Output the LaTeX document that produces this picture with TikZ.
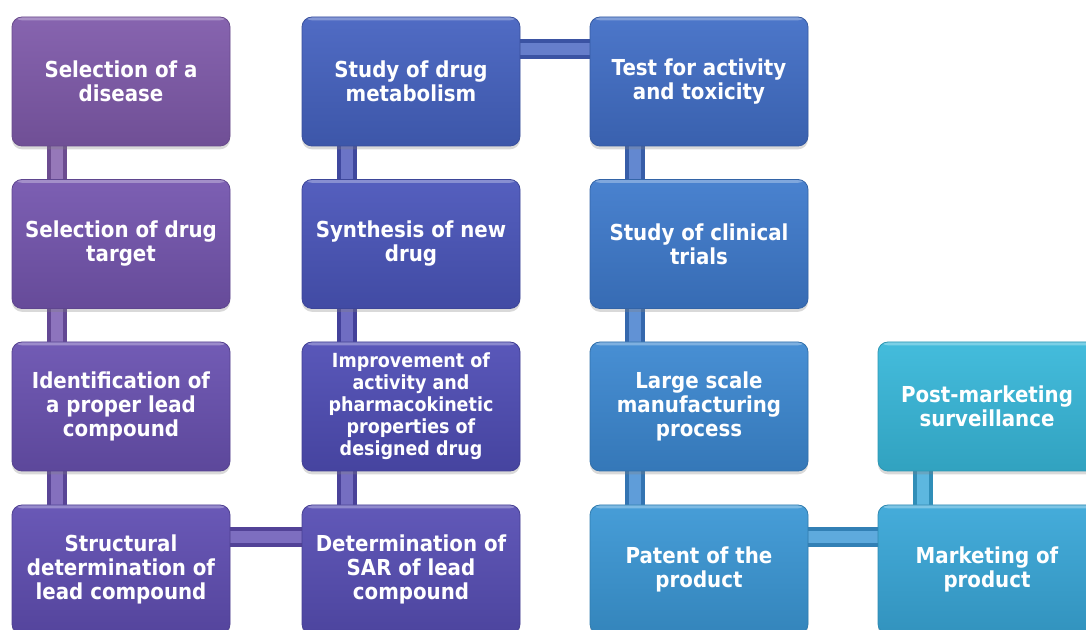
\documentclass[tikz,border=0pt]{standalone}
\usepackage{fontspec}
\usepackage{tikz}
\usetikzlibrary{shadows,backgrounds}
\newfontfamily\stagefont{DejaVu Sans}[FakeStretch=0.9]

\begin{document}
\begin{tikzpicture}[x=0.75pt,y=-0.75pt]
	\tikzset{stage/.style={rounded corners=7.5pt, minimum width=163.5pt, minimum height=96.75pt, inner sep=0pt, align=center, text=white,
			draw=#1!82!black, line width=0.6pt, top color=#1!94!white, bottom color=#1!88!black,
			drop shadow={opacity=0.3, shadow xshift=0pt, shadow yshift=-2.5pt},
			path picture={\fill[white, opacity=0.3] (path picture bounding box.north west) rectangle ([yshift=-2.5pt]path picture bounding box.north east);}},
		pipe/.style={draw=#1!85!black, line width=3pt, double=#1!82!white, double distance=9pt}}
	\def \wide {\fontsize{16.5}{18}}
	\def \dense {\fontsize{14.6}{16.5}}
	
	\useasboundingbox (0,0) rectangle (1086,630);
	\clip (0,0) rectangle (1086,630);
	\foreach \cx/\cy/\hex/\txt [count=\ni from 0] in {
		121/81.5/7F5AAA/Selection of a\\disease,
		121/244/7455AE/Selection of drug\\target,
		121/406.5/6951B0/Identification of\\a proper lead\\compound,
		121/569.5/604EB2/Structural\\determination of\\lead compound,
		411/569.5/574EB4/Determination of\\SAR of lead\\compound,
		411/406.5/4F4DB5/Improvement of\\activity and\\pharmacokinetic\\properties of\\designed drug,
		411/244/4A55BA/Synthesis of new\\drug,
		411/81.5/4562C0/Study of drug\\metabolism,
		699/81.5/416EC6/Test for activity\\and toxicity,
		699/244/3E7ACC/Study of clinical\\trials,
		699/406.5/3C88D1/Large scale\\manufacturing\\process,
		699/569.5/3B97D5/Patent of the\\product,
		987/569.5/39A7D8/Marketing of\\product,
		987/406.5/38B8DA/Post-marketing\\surveillance}{
		\xglobal\definecolor{tone\ni}{HTML}{\hex}
		\ifnum\ni=5 \let\fs\dense \else \let\fs\wide \fi
		\node[stage=tone\ni, font=\stagefont\bfseries\fs\selectfont] (s\ni) at (\cx,\cy) {\txt};
	}
	
	\begin{scope}[on background layer]
		\foreach \a/\b in {0/1,1/2,2/3,4/5,5/6,6/7,8/9,9/10,10/11,12/13}
			\draw[pipe=tone\a] ([xshift=33.75pt]s\a.west) -- ([xshift=33.75pt]s\b.west);
		\foreach \a/\b in {3/4,7/8,11/12}
			\draw[pipe=tone\a] ([yshift=-24pt]s\a.north) -- ([yshift=-24pt]s\b.north);
	\end{scope}
\end{tikzpicture}
\end{document}
